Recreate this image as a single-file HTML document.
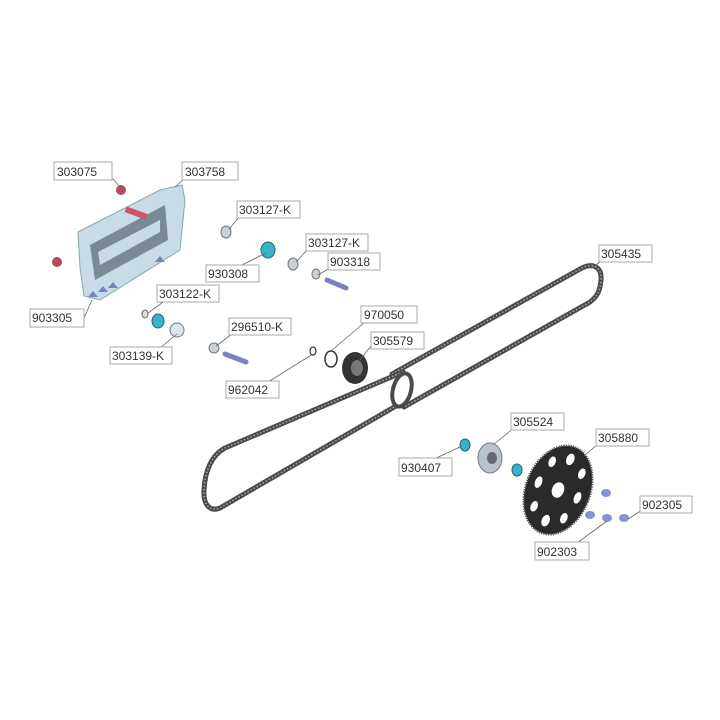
<!DOCTYPE html>
<html><head><meta charset="utf-8"><style>
html,body{margin:0;padding:0;background:#fff}
svg{display:block}
text{font-family:"Liberation Sans",sans-serif;font-size:12px;fill:#333}
.lb{fill:#fff;stroke:#aaa;stroke-width:1}
.ld{stroke:#666;stroke-width:0.8;fill:none}
.belt{fill:none;stroke:#4a4a4a;stroke-width:5;stroke-linecap:round}
.teeth{fill:none;stroke:#aaa;stroke-width:1.5;stroke-dasharray:1.5 2}
</style></head><body>
<svg width="720" height="720" viewBox="0 0 720 720" xmlns="http://www.w3.org/2000/svg">
<!-- belt -->
<g>
<path class="belt" d="M392,374 L582,268 C594,262 602,268 601,280 C600,290 598,296 590,302 L404,407"/>
<path class="teeth" d="M392,374 L582,268 C594,262 602,268 601,280 C600,290 598,296 590,302 L404,407"/>
<path class="belt" d="M403,372 L225,448 C212,455 205,470 204,490 C203,505 210,512 220,508 L396,406"/>
<path class="teeth" d="M403,372 L225,448 C212,455 205,470 204,490 C203,505 210,512 220,508 L396,406"/>
<ellipse cx="402" cy="390" rx="9" ry="17" fill="none" stroke="#4a4a4a" stroke-width="4" transform="rotate(15 402 390)"/>
</g>
<!-- frame -->
<g>
<path d="M78,232 L160,190 L182,185 L185,200 L180,250 L100,300 L84,296 L80,268 Z" fill="#c9dbe6" stroke="#8aa" stroke-width="1"/>
<path d="M90,245 L165,205 L168,240 L95,280 Z" fill="#7a8a94"/>
<path d="M98,252 L160,220 L160,232 L100,265 Z" fill="#c9dbe6"/>
<rect x="125" y="210" width="22" height="6" fill="#d0556a" transform="rotate(20 136 213)"/>
<circle cx="121" cy="190" r="5" fill="#b84a60"/>
<circle cx="57" cy="262" r="5" fill="#b84a60"/>
<path d="M155,262 l5,-6 l5,6 z" fill="#7b82c4"/>
<path d="M88,297 l5,-6 l5,6 z" fill="#7b82c4"/>
<path d="M98,292 l5,-6 l5,6 z" fill="#7b82c4"/>
<path d="M108,288 l5,-6 l5,6 z" fill="#7b82c4"/>
</g>
<!-- small parts -->
<ellipse cx="226" cy="232" rx="5" ry="6" fill="#c8d0d8" stroke="#777"/>
<ellipse cx="268" cy="250" rx="7" ry="8" fill="#39b3c7" stroke="#267"/>
<ellipse cx="293" cy="264" rx="5" ry="6" fill="#c8d0d8" stroke="#777"/>
<ellipse cx="316" cy="274" rx="4" ry="5" fill="#c8d0d8" stroke="#777"/>
<line x1="327" y1="280" x2="346" y2="288" stroke="#7b82c4" stroke-width="5" stroke-linecap="round"/>
<ellipse cx="145" cy="314" rx="3" ry="4" fill="#ddd" stroke="#666"/>
<ellipse cx="158" cy="321" rx="6" ry="7" fill="#39b3c7" stroke="#267"/>
<ellipse cx="177" cy="330" rx="7" ry="7" fill="#dde4ea" stroke="#777"/>
<ellipse cx="214" cy="348" rx="5" ry="5" fill="#c8d0d8" stroke="#777"/>
<line x1="225" y1="354" x2="246" y2="362" stroke="#7b82c4" stroke-width="5" stroke-linecap="round"/>
<ellipse cx="313" cy="351" rx="3" ry="4" fill="none" stroke="#333" stroke-width="1.2"/>
<ellipse cx="331" cy="359" rx="6" ry="8" fill="none" stroke="#333" stroke-width="1.5"/>
<ellipse cx="355" cy="368" rx="13" ry="16" fill="#333"/>
<ellipse cx="357" cy="368" rx="6" ry="8" fill="#777"/>
<!-- hub -->
<ellipse cx="465" cy="445" rx="5" ry="6" fill="#39b3c7" stroke="#267"/>
<ellipse cx="490" cy="458" rx="12" ry="15" fill="#b8c2cc" stroke="#778"/>
<ellipse cx="492" cy="458" rx="5" ry="6" fill="#667"/>
<ellipse cx="517" cy="470" rx="5" ry="6" fill="#39b3c7" stroke="#267"/>
<!-- gear -->
<g transform="rotate(22 558 490)">
<ellipse cx="558" cy="490" rx="32" ry="46" fill="#222" stroke="#555" stroke-width="2.5" stroke-dasharray="1.2 1.2"/>
<ellipse cx="558" cy="490" rx="30" ry="44" fill="#2a2a2a"/>
<g fill="#fff">
<ellipse cx="558" cy="490" rx="6" ry="8"/>
<ellipse cx="558" cy="457" rx="4" ry="6"/><ellipse cx="558" cy="523" rx="4" ry="6"/>
<ellipse cx="537" cy="490" rx="3.5" ry="6"/><ellipse cx="579" cy="490" rx="3.5" ry="6"/>
<ellipse cx="542" cy="466" rx="3.5" ry="5.5"/><ellipse cx="574" cy="466" rx="3.5" ry="5.5"/>
<ellipse cx="542" cy="514" rx="3.5" ry="5.5"/><ellipse cx="574" cy="514" rx="3.5" ry="5.5"/>
</g></g>
<g fill="#8a92cf"><ellipse cx="606" cy="493" rx="5" ry="4"/><ellipse cx="590" cy="515" rx="5" ry="4"/><ellipse cx="607" cy="518" rx="5" ry="4"/><ellipse cx="624" cy="518" rx="5" ry="4"/></g>
<!-- leaders -->
<g class="ld">
<path d="M112,178 L121,188"/><path d="M185,178 L175,187"/>
<path d="M240,216 L229,229"/><path d="M308,249 L296,262"/>
<path d="M240,266 L266,253"/><path d="M330,268 L318,275"/>
<path d="M84,318 L92,300"/><path d="M166,300 L148,313"/>
<path d="M160,348 L177,334"/><path d="M232,334 L216,346"/>
<path d="M365,322 L331,351"/><path d="M374,342 L360,360"/>
<path d="M268,382 L313,354"/><path d="M600,262 L592,268"/>
<path d="M514,428 L494,444"/><path d="M598,444 L585,455"/>
<path d="M432,460 L462,446"/><path d="M642,510 L628,519"/>
<path d="M577,543 L607,521"/>
</g>
<!-- labels -->
<g>
<rect class="lb" x="54" y="162" width="58" height="18"/><text x="57" y="176">303075</text>
<rect class="lb" x="182" y="162" width="56" height="18"/><text x="185" y="176">303758</text>
<rect class="lb" x="237" y="201" width="63" height="17"/><text x="239" y="214">303127-K</text>
<rect class="lb" x="306" y="234" width="62" height="17"/><text x="308" y="247">303127-K</text>
<rect class="lb" x="206" y="265" width="53" height="17"/><text x="208" y="278">930308</text>
<rect class="lb" x="328" y="253" width="52" height="17"/><text x="330" y="266">903318</text>
<rect class="lb" x="30" y="309" width="54" height="18"/><text x="32" y="322">903305</text>
<rect class="lb" x="157" y="285" width="62" height="17"/><text x="159" y="298">303122-K</text>
<rect class="lb" x="110" y="347" width="62" height="17"/><text x="112" y="360">303139-K</text>
<rect class="lb" x="229" y="318" width="62" height="17"/><text x="231" y="331">296510-K</text>
<rect class="lb" x="361" y="306" width="56" height="17"/><text x="364" y="319">970050</text>
<rect class="lb" x="371" y="332" width="53" height="17"/><text x="373" y="345">305579</text>
<rect class="lb" x="226" y="381" width="53" height="17"/><text x="228" y="394">962042</text>
<rect class="lb" x="599" y="245" width="53" height="17"/><text x="601" y="258">305435</text>
<rect class="lb" x="511" y="413" width="53" height="17"/><text x="513" y="426">305524</text>
<rect class="lb" x="596" y="429" width="53" height="17"/><text x="598" y="442">305880</text>
<rect class="lb" x="399" y="458" width="53" height="18"/><text x="401" y="472">930407</text>
<rect class="lb" x="640" y="496" width="52" height="17"/><text x="642" y="509">902305</text>
<rect class="lb" x="535" y="542" width="54" height="18"/><text x="537" y="556">902303</text>
</g>
</svg>
</body></html>
